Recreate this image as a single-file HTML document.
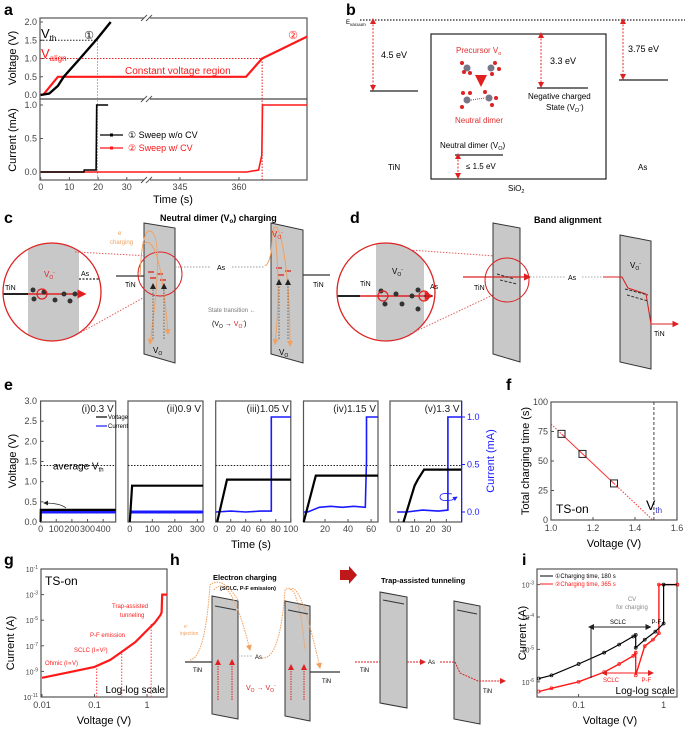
<!DOCTYPE html>
<html><head><meta charset="utf-8"><style>
html,body{margin:0;padding:0;background:#fff}
svg{display:block;font-family:"Liberation Sans",Arial,sans-serif}
</style></head><body>
<svg id="fig" width="685" height="734" viewBox="0 0 685 734" xmlns="http://www.w3.org/2000/svg">
<defs>
<marker id="arR" markerWidth="6" markerHeight="6" refX="5" refY="3" orient="auto"><path d="M0,0 L6,3 L0,6 z" fill="#e02020"/></marker>
<marker id="arK" markerWidth="6" markerHeight="6" refX="5" refY="3" orient="auto"><path d="M0,0 L6,3 L0,6 z" fill="#222"/></marker>
<marker id="arO" markerWidth="6" markerHeight="6" refX="5" refY="3" orient="auto"><path d="M0,0 L6,3 L0,6 z" fill="#f0a060"/></marker>
<marker id="arB" markerWidth="6" markerHeight="6" refX="5" refY="3" orient="auto"><path d="M0,0 L6,3 L0,6 z" fill="#2020ff"/></marker>
<marker id="arRs" markerWidth="6" markerHeight="6" refX="3" refY="3" orient="auto-start-reverse"><path d="M0,0 L6,3 L0,6 z" fill="#e02020"/></marker>
<marker id="arKs" markerWidth="6" markerHeight="6" refX="3" refY="3" orient="auto-start-reverse"><path d="M0,0 L6,3 L0,6 z" fill="#222"/></marker>
<clipPath id="clipC"><circle cx="52" cy="298" r="49"/></clipPath>
<clipPath id="clipD"><circle cx="386" cy="298" r="49"/></clipPath>
</defs>

<!-- panel labels -->
<g font-weight="bold" font-size="16" fill="#000">
<text x="4" y="15">a</text><text x="346" y="15">b</text>
<text x="4" y="223">c</text><text x="350" y="223">d</text>
<text x="4" y="390">e</text><text x="506" y="390">f</text>
<text x="4" y="565">g</text><text x="170" y="565">h</text><text x="522" y="565">i</text>
</g>

<!-- ===== panel b (static diagram) ===== -->
<g font-size="9">
<line x1="360" y1="20" x2="685" y2="20" stroke="#222" stroke-dasharray="1.5,1.5" stroke-width="1.2"/>
<text x="346" y="24" font-size="6">E<tspan font-size="4.5" dy="2">vacuum</tspan></text>
<line x1="373" y1="21" x2="373" y2="90" stroke="#e03030" stroke-dasharray="2,1.5" marker-end="url(#arR)" marker-start="url(#arRs)"/>
<line x1="370" y1="91" x2="418" y2="91" stroke="#222" stroke-width="1.2"/>
<text x="381" y="58">4.5 eV</text>
<line x1="623" y1="21" x2="623" y2="79" stroke="#e03030" stroke-dasharray="2,1.5" marker-end="url(#arR)" marker-start="url(#arRs)"/>
<line x1="619" y1="80" x2="668" y2="80" stroke="#222" stroke-width="1.2"/>
<text x="628" y="52">3.75 eV</text>
<rect x="431" y="34" width="175" height="145" fill="none" stroke="#222" stroke-width="1.2"/>
<line x1="541" y1="35" x2="541" y2="87" stroke="#e03030" stroke-dasharray="2,1.5" marker-end="url(#arR)" marker-start="url(#arRs)"/>
<line x1="537" y1="88" x2="588" y2="88" stroke="#222" stroke-width="1.2"/>
<text x="550" y="64">3.3 eV</text>
<text x="528" y="99" font-size="8">Negative charged</text>
<text x="546" y="110" font-size="8">State (V<tspan font-size="5.5" dy="2">O</tspan><tspan font-size="5.5" dy="-5">-</tspan><tspan dy="3">)</tspan></text>
<text x="456" y="53" fill="#e03030" font-size="8">Precursor V<tspan font-size="5.5" dy="2">o</tspan></text>
<text x="455" y="123" fill="#e03030" font-size="8">Neutral dimer</text>
<g>
<circle cx="467" cy="68" r="3.5" fill="#778"/><circle cx="462" cy="63" r="2" fill="#d22"/><circle cx="470" cy="73" r="2" fill="#d22"/><circle cx="464" cy="72" r="2" fill="#d22"/>
<circle cx="491" cy="68" r="3.5" fill="#778"/><circle cx="495" cy="63" r="2" fill="#d22"/><circle cx="499" cy="69" r="2" fill="#d22"/><circle cx="492" cy="74" r="2" fill="#d22"/>
<line x1="481" y1="77" x2="481" y2="85" stroke="#d22" stroke-width="2" marker-end="url(#arR)"/>
<circle cx="467" cy="100" r="3.5" fill="#778"/><circle cx="463" cy="93" r="2" fill="#d22"/><circle cx="462" cy="107" r="2" fill="#d22"/><circle cx="470" cy="93" r="2" fill="#d22"/>
<circle cx="489" cy="98" r="3.5" fill="#778"/><circle cx="485" cy="92" r="2" fill="#d22"/><circle cx="496" cy="98" r="2" fill="#d22"/><circle cx="492" cy="105" r="2" fill="#d22"/>
<line x1="471" y1="100" x2="485" y2="98" stroke="#d22" stroke-dasharray="1,1"/>
</g>
<text x="440" y="148" font-size="8">Neutral dimer (V<tspan font-size="5.5" dy="2">O</tspan><tspan dy="-2">)</tspan></text>
<line x1="455" y1="155" x2="503" y2="155" stroke="#222" stroke-width="1.2"/>
<line x1="458" y1="156" x2="458" y2="178" stroke="#e03030" stroke-dasharray="2,1.5" marker-end="url(#arR)" marker-start="url(#arRs)"/>
<text x="466" y="169" font-size="8">≤ 1.5 eV</text>
<text x="388" y="170" font-size="8">TiN</text><text x="638" y="170" font-size="8">As</text>
<text x="508" y="191" font-size="8">SiO<tspan font-size="5.5" dy="2">2</tspan></text>
</g>

<!-- ===== panel c ===== -->
<g font-size="7" transform="translate(0,-6)">
<text x="160" y="227" font-weight="bold" font-size="9">Neutral dimer (V<tspan font-size="6" dy="2">o</tspan><tspan dy="-2">) charging</tspan></text>
<g clip-path="url(#clipC)">
<rect x="0" y="240" width="110" height="120" fill="#fff"/>
<rect x="28" y="240" width="51" height="120" fill="#c8c8c8"/>
<line x1="0" y1="300" x2="28" y2="300" stroke="#222" stroke-width="2"/>
<line x1="28" y1="300" x2="85" y2="300" stroke="#d22" stroke-width="1.5" marker-end="url(#arR)"/>
<line x1="79" y1="285" x2="100" y2="285" stroke="#222" stroke-dasharray="2,1.5" stroke-width="1.2"/>
<g fill="#333"><circle cx="33" cy="296" r="2.5"/><circle cx="34" cy="305" r="2.5"/><circle cx="44" cy="298" r="2.5"/><circle cx="55" cy="306" r="2.5"/><circle cx="64" cy="300" r="2.5"/><circle cx="70" cy="307" r="2.5"/><circle cx="75" cy="300" r="2.5"/></g>
<circle cx="42" cy="300" r="5" fill="none" stroke="#d22" stroke-width="1.2"/>
</g>
<circle cx="52" cy="298" r="49" fill="none" stroke="#d22" stroke-width="1.3"/>
<text x="44" y="283" fill="#d22" font-size="8">V<tspan font-size="5" dy="2">O</tspan><tspan font-size="5" dy="-5">-</tspan></text>
<text x="81" y="282">As</text><text x="5" y="296">TiN</text>
<line x1="75" y1="258" x2="150" y2="262" stroke="#e06060" stroke-dasharray="1.5,1.5"/>
<line x1="78" y1="340" x2="150" y2="300" stroke="#e06060" stroke-dasharray="1.5,1.5"/>
<polygon points="144,229 175,234 175,369 144,360" fill="#c8c8c8" stroke="#333"/>
<polygon points="271,229 303,236 303,369 271,360" fill="#c8c8c8" stroke="#333"/>
<line x1="116" y1="282" x2="144" y2="282" stroke="#333" stroke-width="1.2"/>
<text x="125" y="293">TiN</text>
<line x1="175" y1="273" x2="210" y2="273" stroke="#999" stroke-dasharray="1.5,1.5"/>
<text x="217" y="276">As</text>
<line x1="232" y1="273" x2="265" y2="273" stroke="#999" stroke-dasharray="1.5,1.5"/>
<line x1="303" y1="281" x2="330" y2="281" stroke="#333" stroke-width="1.2"/>
<text x="313" y="293">TiN</text>
<circle cx="160" cy="280" r="22" fill="none" stroke="#d22" stroke-width="1"/>
<g stroke="#d22" stroke-width="1.3"><line x1="148" y1="278" x2="154" y2="278"/><line x1="157" y1="280" x2="163" y2="280"/><line x1="150" y1="284" x2="156" y2="284"/><line x1="160" y1="286" x2="166" y2="286"/><line x1="276" y1="274" x2="282" y2="274"/><line x1="285" y1="277" x2="291" y2="277"/><line x1="278" y1="281" x2="284" y2="281"/></g>
<g stroke="#f0a060" fill="none" stroke-width="1"><path d="M140,282 Q142,235 150,237 Q165,240 150,350" marker-end="url(#arO)"/><path d="M143,250 Q160,236 168,340" marker-end="url(#arO)"/><path d="M265,272 Q272,268 272,240 Q275,226 280,240 Q290,280 290,352" marker-end="url(#arO)"/><path d="M275,236 Q281,300 275,350" marker-end="url(#arO)"/></g>
<g stroke="#666" stroke-dasharray="1.5,1.5"><line x1="153" y1="345" x2="153" y2="290" marker-end="url(#arK)"/><line x1="164" y1="345" x2="164" y2="290" marker-end="url(#arK)"/><line x1="279" y1="345" x2="279" y2="286" marker-end="url(#arK)"/><line x1="288" y1="345" x2="288" y2="286" marker-end="url(#arK)"/></g>
<text x="153" y="359" font-size="8">V<tspan font-size="5" dy="2">O</tspan></text>
<text x="279" y="361" font-size="8">V<tspan font-size="5" dy="2">O</tspan></text>
<text x="118" y="241" fill="#f0a060" font-size="6">e<tspan font-size="4" dy="-3">-</tspan></text>
<text x="110" y="250" fill="#f0a060" font-size="6">charging</text>
<text x="208" y="318" fill="#777" font-size="6">State transition ←</text>
<text x="212" y="332" font-size="7">(V<tspan font-size="5" dy="2">O</tspan><tspan dy="-2"> → </tspan><tspan fill="#d22">V<tspan font-size="5" dy="2">O</tspan><tspan font-size="5" dy="-5">-</tspan></tspan><tspan dy="3">)</tspan></text>
<text x="272" y="243" fill="#d22" font-size="8">V<tspan font-size="5" dy="2">O</tspan><tspan font-size="5" dy="-5">-</tspan></text>
</g>

<!-- ===== panel d ===== -->
<g font-size="7" transform="translate(0,-6)">
<text x="534" y="229" font-weight="bold" font-size="9">Band alignment</text>
<g clip-path="url(#clipD)">
<rect x="336" y="240" width="110" height="120" fill="#fff"/>
<rect x="376" y="240" width="48" height="120" fill="#c8c8c8"/>
<line x1="336" y1="302" x2="360" y2="302" stroke="#222" stroke-width="2"/>
<line x1="360" y1="302" x2="432" y2="302" stroke="#d22" stroke-width="1.5" marker-end="url(#arR)"/>
<line x1="424" y1="302" x2="440" y2="302" stroke="#222" stroke-dasharray="2,1.5"/>
<g fill="#333"><circle cx="381" cy="297" r="2.5"/><circle cx="385" cy="310" r="2.5"/><circle cx="396" cy="300" r="2.5"/><circle cx="402" cy="310" r="2.5"/><circle cx="412" cy="302" r="2.5"/><circle cx="418" cy="296" r="2.5"/><circle cx="418" cy="315" r="2.5"/></g>
<circle cx="383" cy="302" r="5" fill="none" stroke="#d22" stroke-width="1.2"/><circle cx="424" cy="302" r="5" fill="none" stroke="#d22" stroke-width="1.2"/>
</g>
<circle cx="386" cy="298" r="49" fill="none" stroke="#d22" stroke-width="1.3"/>
<text x="392" y="280" font-size="8">V<tspan font-size="5" dy="2">O</tspan><tspan font-size="5" dy="-5">-</tspan></text>
<text x="360" y="292">TiN</text><text x="430" y="295">As</text>
<line x1="410" y1="256" x2="495" y2="262" stroke="#e06060" stroke-dasharray="1.5,1.5"/>
<line x1="410" y1="340" x2="495" y2="300" stroke="#e06060" stroke-dasharray="1.5,1.5"/>
<polygon points="493,229 520,234 520,368 493,360" fill="#c8c8c8" stroke="#333"/>
<polygon points="620,241 651,247 651,375 620,368" fill="#c8c8c8" stroke="#333"/>
<circle cx="507" cy="286" r="22" fill="none" stroke="#d22" stroke-width="1"/>
<line x1="463" y1="283" x2="530" y2="283" stroke="#d22" stroke-width="1.2" marker-end="url(#arR)"/>
<text x="474" y="296">TiN</text>
<line x1="530" y1="283" x2="565" y2="283" stroke="#aaa" stroke-dasharray="1.5,1.5"/><text x="568" y="286">As</text>
<line x1="582" y1="283" x2="603" y2="283" stroke="#aaa" stroke-dasharray="1.5,1.5"/>
<path d="M603,283 L622,283 L628,294 L646,300 L651,330 L678,330" fill="none" stroke="#d22" stroke-width="1.1" marker-end="url(#arR)"/>
<g stroke="#333" stroke-dasharray="3,1.5"><line x1="497" y1="280" x2="514" y2="285"/><line x1="500" y1="286" x2="517" y2="290"/><line x1="625" y1="295" x2="648" y2="301"/><line x1="627" y1="301" x2="648" y2="307"/></g>
<text x="630" y="274" font-size="8">V<tspan font-size="5" dy="2">O</tspan><tspan font-size="5" dy="-5">-</tspan></text>
<text x="654" y="342">TiN</text>
</g>

<!-- ===== panel h ===== -->
<g font-size="6">
<text x="213" y="580" font-weight="bold" font-size="7.5">Electron charging</text>
<text x="220" y="590" font-size="5.5" font-weight="bold">(SCLC, P-F emission)</text>
<polygon points="340,570 349,570 349,566 357,575 349,584 349,580 340,580" fill="#c01818"/>
<text x="381" y="583" font-weight="bold" font-size="7.5">Trap-assisted tunneling</text>
<polygon points="212,596 238,601 238,719 212,714" fill="#c8c8c8" stroke="#333"/>
<polygon points="285,601 310,606 310,721 285,716" fill="#c8c8c8" stroke="#333"/>
<polygon points="380,592 407,597 407,708 380,703" fill="#c8c8c8" stroke="#333"/>
<polygon points="454,601 480,606 480,724 454,719" fill="#c8c8c8" stroke="#333"/>
<line x1="185" y1="662" x2="212" y2="662" stroke="#333" stroke-width="1.2"/><text x="193" y="672">TiN</text>
<line x1="238" y1="656" x2="252" y2="656" stroke="#aaa" stroke-dasharray="1.5,1.5"/><text x="255" y="659">As</text>
<line x1="310" y1="672" x2="340" y2="672" stroke="#333" stroke-width="1.2"/><text x="322" y="683">TiN</text>
<line x1="355" y1="662" x2="380" y2="662" stroke="#d22" stroke-dasharray="2,1"/><text x="360" y="672">TiN</text>
<line x1="407" y1="662" x2="425" y2="662" stroke="#d22" stroke-dasharray="2,1" marker-end="url(#arR)"/><text x="428" y="664">As</text>
<path d="M440,662 L455,662 L460,673 L478,681 L505,681" fill="none" stroke="#d22" stroke-dasharray="2,1" marker-end="url(#arR)"/><text x="483" y="693">TiN</text>
<g stroke="#f0a060" fill="none" stroke-dasharray="1.5,1"><path d="M190,660 Q205,658 210,585 Q222,575 238,600"/><path d="M214,590 Q230,570 250,650" marker-end="url(#arO)"/><path d="M262,658 Q280,660 285,590 Q298,578 305,650"/><path d="M290,590 Q300,578 320,668" marker-end="url(#arO)"/></g>
<g stroke="#d22" stroke-dasharray="1.5,1"><line x1="218" y1="700" x2="218" y2="660" marker-end="url(#arR)"/><line x1="232" y1="700" x2="232" y2="660" marker-end="url(#arR)"/><line x1="291" y1="700" x2="291" y2="665" marker-end="url(#arR)"/><line x1="304" y1="700" x2="304" y2="665" marker-end="url(#arR)"/></g>
<g stroke="#333"><line x1="215" y1="606" x2="236" y2="610"/><line x1="288" y1="610" x2="308" y2="614"/><line x1="383" y1="600" x2="404" y2="604"/><line x1="457" y1="610" x2="477" y2="614"/></g>
<text x="246" y="690" fill="#d22" font-size="7">V<tspan font-size="5" dy="2">O</tspan><tspan dy="-2"> → V</tspan><tspan font-size="5" dy="2">O</tspan><tspan font-size="5" dy="-5">-</tspan></text>
<text x="184" y="628" fill="#f0a060" font-size="5">e<tspan dy="-2" font-size="4">-</tspan></text>
<text x="180" y="635" fill="#f0a060" font-size="5">injection</text>
</g>

<g id="charts"></g>
</svg>

<script>
// ===== panel a data =====
const aBlackT=[0,3,6,8,13.7,19.8,24.4];
const aBlackV=[0,0.04,0.25,0.5,1.0,1.55,2.0];
const aRedT=[0,1,6,37,336.6,361.8,365.9,377.3];
const aRedV=[0,0.02,0.5,0.5,0.5,0.5,1.0,1.6];
const aCurBlackT=[0,15,15.2,19.3,19.5,23.5];
const aCurBlackI=[0,0,0.03,0.03,1.0,1.0];
const aCurRedT=[0,37,336.6,362,365,365.8,366,377.3];
const aCurRedI=[0,0,0,0,0.03,0.25,1.0,1.0];
const aVTicks=[0,0.5,1.0,1.5,2.0];
const aITicks=[0,0.5,1.0];
const aTTicks=[0,10,20,30,345,360];
// ===== panel e data =====
const eLabels=['(i)0.3 V','(ii)0.9 V','(iii)1.05 V','(iv)1.15 V','(v)1.3 V'];
const eXMin=[0,-8,0,1.3,-5.5];
const eXMax=[480,325,100,66,39.6];
const eTicks=[[0,100,200,300,400],[0,100,200,300],[0,20,40,60,80,100],[20,40,60],[0,10,20,30]];
const eVoltT=[[0,1,480],[0,10,325],[2,15,100],[1.5,12,66],[3,10,12,16,39.6]];
const eVoltV=[[0,0.3,0.3],[0,0.9,0.9],[0,1.05,1.05],[0,1.15,1.15],[0,0.9,1.05,1.3,1.3]];
const eCurT=[[0,480],[0,325],[0,20,40,60,74,74,100],[1.5,5,15,25,35,45,55,56,56,66],[-1,5,15,25,31,31,39.6]];
const eCurI=[[0,0],[0,0],[0,0.01,0,0.01,0.01,1.0,1.0],[0,0,0.05,0.06,0.05,0.06,0.05,0.55,1.0,1.0],[0,0,0.02,0.01,0.02,1.0,1.0]];
const eVTicks=[0,0.5,1.0,1.5,2.0,2.5,3.0];
const eITicks=[0,0.5,1.0];
const eAvgVth=1.4;
// ===== panel f data =====
const fV=[1.05,1.15,1.3];
const fT=[73,56,31];
const fVth=1.49;
const fXTicks=[1.0,1.2,1.4,1.6];
const fYTicks=[0,25,50,75,100];
// ===== panel g data =====
const gV=[0.01,0.03,0.1,0.2,0.35,0.6,1.0,1.4,1.8,1.9,1.95,2.4];
const gLogI=[-9.5,-9.1,-8.65,-8.1,-7.4,-6.7,-5.8,-5.2,-4.6,-4.4,-3.0,-3.0];
const gXTicks=[0.01,0.1,1];
const gYTicks=[-1,-3,-5,-7,-9,-11];
// ===== panel i data =====
const iBlackV=[0.034,0.048,0.1,0.2,0.3,0.44,0.47,0.47,0.6,0.8,1.0,1.0,1.45];
const iBlackLogI=[-5.9,-5.8,-5.45,-5.1,-4.85,-4.6,-4.55,-4.95,-4.7,-4.45,-4.2,-3.0,-3.0];
const iRedV=[0.034,0.048,0.1,0.2,0.3,0.44,0.47,0.47,0.6,0.75,0.88,0.88,1.45];
const iRedLogI=[-6.3,-6.2,-6.0,-5.7,-5.45,-5.2,-5.1,-5.8,-4.9,-4.7,-4.5,-3.0,-3.0];
const iXTicks=[0.1,1];
const iYTicks=[-3,-4,-5,-6];

const NS='http://www.w3.org/2000/svg';
const root=document.getElementById('charts');
function el(tag,attrs,parent){const e=document.createElementNS(NS,tag);for(const k in attrs)e.setAttribute(k,attrs[k]);(parent||root).appendChild(e);return e;}
function txt(s,attrs,parent){const e=el('text',attrs,parent);e.textContent=s;return e;}
function poly(xs,ys,fx,fy){return xs.map((x,i)=>fx(x).toFixed(1)+','+fy(ys[i]).toFixed(1)).join(' ');}
const FS=9;

// ================= PANEL A =================
const aBreakT0=37, aBreakT1=336.6;
function xA(t){return t<=aBreakT0?40.7+t*2.87:147+(t-aBreakT1)*3.93;}
function yAV(v){return 95-v*36.5;}
function yAI(i){return 172-i*67;}
let gA=el('g',{});


let fr=el('rect',{x:40,y:18,width:267,height:81,fill:'none',stroke:'#555','stroke-width':1.2},gA);


fr=el('rect',{x:40,y:99,width:267,height:81,fill:'none',stroke:'#555','stroke-width':1.2},gA);


aVTicks.forEach(v=>{el('line',{x1:40,y1:yAV(v),x2:43,y2:yAV(v),stroke:'#555'},gA);let t=txt(v.toFixed(1),{x:37,y:yAV(v)+3,'font-size':FS,'text-anchor':'end',fill:'#444'},gA);

});
aITicks.forEach(v=>{el('line',{x1:40,y1:yAI(v),x2:43,y2:yAI(v),stroke:'#555'},gA);let t=txt(v.toFixed(1),{x:37,y:yAI(v)+3,'font-size':FS,'text-anchor':'end',fill:'#444'},gA);

});
aTTicks.forEach(v=>{el('line',{x1:xA(v),y1:180,x2:xA(v),y2:177,stroke:'#555'},gA);let t=txt(String(v),{x:xA(v),y:190,'font-size':FS,'text-anchor':'middle',fill:'#444'},gA);

});
el('rect',{x:144,y:15,width:6,height:168,fill:'#fff'},gA);
['M141,21 L147,15','M146,21 L152,15','M141,102 L147,96','M146,102 L152,96','M141,183 L147,177','M146,183 L152,177'].forEach(d=>el('path',{d:d,stroke:'#555',fill:'none'},gA));
let tl=txt('Voltage (V)',{x:0,y:0,'font-size':11,'text-anchor':'middle',transform:'translate(16,58) rotate(-90)'},gA);


tl=txt('Current (mA)',{x:0,y:0,'font-size':11,'text-anchor':'middle',transform:'translate(16,140) rotate(-90)'},gA);


tl=txt('Time (s)',{x:173,y:203,'font-size':11,'text-anchor':'middle'},gA);


const tVth=19.8, tAlign=365.9;
el('line',{x1:40,y1:yAV(1.5),x2:xA(tVth),y2:yAV(1.5),stroke:'#222','stroke-dasharray':'1.5,1.5'},gA);
el('line',{x1:xA(tVth),y1:yAV(1.5),x2:xA(tVth),y2:180,stroke:'#999','stroke-dasharray':'1.5,1.5'},gA);
el('line',{x1:40,y1:yAV(1.0),x2:xA(tAlign),y2:yAV(1.0),stroke:'#e02020','stroke-dasharray':'1.5,1.5'},gA);
el('line',{x1:xA(tAlign),y1:yAV(1.0),x2:xA(tAlign),y2:180,stroke:'#e02020','stroke-dasharray':'1.5,1.5'},gA);
function splitDraw(T,Y,fy,color,name,w){
  const segs=[[[],[]],[[],[]]];
  T.forEach((t,i)=>{const s=t<=aBreakT0?0:1;segs[s][0].push(t);segs[s][1].push(Y[i]);});
  segs.forEach(s=>{if(s[0].length>1){let p=el('polyline',{points:poly(s[0],s[1],xA,fy),fill:'none',stroke:color,'stroke-width':w},gA);
  
  }});
}
splitDraw(aRedT,aRedV,yAV,'#ff1818','voltage-line-sweep-with-cv',2.2);
splitDraw(aBlackT,aBlackV,yAV,'#000','voltage-line-sweep-without-cv',2.4);
splitDraw(aCurRedT,aCurRedI,yAI,'#ff1818','current-line-sweep-with-cv',1.6);
splitDraw(aCurBlackT,aCurBlackI,yAI,'#000','current-line-sweep-without-cv',1.6);
tl=txt('V',{x:41,y:38,'font-size':13},gA);tl.innerHTML='V<tspan font-size="8" dy="3">th</tspan>';


tl=txt('V',{x:41,y:58,'font-size':13,fill:'#ff1818'},gA);tl.innerHTML='V<tspan font-size="8" dy="3">align</tspan>';


tl=txt('①',{x:89,y:39,'font-size':11,'text-anchor':'middle'},gA);


tl=txt('②',{x:293,y:39,'font-size':11,'text-anchor':'middle',fill:'#ff1818'},gA);


tl=txt('Constant voltage region',{x:125,y:74,'font-size':10,fill:'#ff1818'},gA);


let lg=el('g',{},gA);


el('line',{x1:100,y1:135,x2:123,y2:135,stroke:'#000','stroke-width':1.2},lg);el('rect',{x:110,y:133.5,width:3,height:3,fill:'#000'},lg);
txt('① Sweep w/o CV',{x:128,y:138,'font-size':9},lg);
el('line',{x1:100,y1:148,x2:123,y2:148,stroke:'#ff1818','stroke-width':1.2},lg);el('rect',{x:110,y:146.5,width:3,height:3,fill:'#ff1818'},lg);
txt('② Sweep w/ CV',{x:128,y:151,'font-size':9,fill:'#ff1818'},lg);

// ================= PANEL E =================
const eLeft=[40.6,128,215.7,303.5,390], eRight=[115.7,203,290.8,378,461.6];
const eY0=522,eY3=401;
function yEV(v){return eY0-v*(eY0-eY3)/3;}
function yEI(i){return 512-i*95;}
let gE=el('g',{});


eLabels.forEach((lab,k)=>{
  const L=eLeft[k],R=eRight[k];
  const fx=t=>L+(t-eXMin[k])*(R-L)/(eXMax[k]-eXMin[k]);
  let sg=el('g',{},gE);
  
  
  let r=el('rect',{x:L,y:eY3,width:R-L,height:eY0-eY3,fill:'none',stroke:'#555','stroke-width':1.2},sg);
  
  
  el('line',{x1:L,y1:yEV(eAvgVth),x2:R,y2:yEV(eAvgVth),stroke:'#222','stroke-dasharray':'1.5,1.5'},sg);
  eTicks[k].forEach(t=>{el('line',{x1:fx(t),y1:eY0,x2:fx(t),y2:eY0-3,stroke:'#555'},sg);let tt=txt(String(t),{x:fx(t),y:eY0+10,'font-size':FS,'text-anchor':'middle',fill:'#444'},sg);
  
  });
  let cl=el('polyline',{points:poly(eCurT[k],eCurI[k],fx,yEI),fill:'none',stroke:'#1a1aff','stroke-width':k<2?3:1.6},sg);
  
  
  let vl=el('polyline',{points:poly(eVoltT[k],eVoltV[k],fx,yEV),fill:'none',stroke:'#000','stroke-width':2.2},sg);
  
  
  let lt=txt(lab,{x:R-2,y:eY3+11,'font-size':10,'text-anchor':'end',fill:'#222'},sg);
  
  
});
eVTicks.forEach(v=>{el('line',{x1:40.6,y1:yEV(v),x2:43.6,y2:yEV(v),stroke:'#555'},gE);let t=txt(v.toFixed(1),{x:37,y:yEV(v)+3,'font-size':FS,'text-anchor':'end',fill:'#444'},gE);

});
eITicks.forEach(v=>{el('line',{x1:461.6,y1:yEI(v),x2:465,y2:yEI(v),stroke:'#1a1aff'},gE);let t=txt(v.toFixed(1),{x:467,y:yEI(v)+3,'font-size':FS,fill:'#1a1aff'},gE);

});
el('line',{x1:461.6,y1:eY3,x2:461.6,y2:eY0,stroke:'#1a1aff','stroke-width':1.2},gE);
tl=txt('Voltage (V)',{x:0,y:0,'font-size':11,'text-anchor':'middle',transform:'translate(16,461) rotate(-90)'},gE);


tl=txt('Current (mA)',{x:0,y:0,'font-size':11,'text-anchor':'middle',fill:'#1a1aff',transform:'translate(494,461) rotate(-90)'},gE);


tl=txt('Time (s)',{x:251,y:548,'font-size':11,'text-anchor':'middle'},gE);


tl=txt('',{x:53,y:yEV(eAvgVth)+4,'font-size':10},gE);tl.innerHTML='average V<tspan font-size="6" dy="2">th</tspan>';


lg=el('g',{},gE);


el('line',{x1:96,y1:417,x2:107,y2:417,stroke:'#000','stroke-width':1.2},lg);txt('Voltage',{x:108,y:419,'font-size':6},lg);
el('line',{x1:96,y1:426,x2:107,y2:426,stroke:'#1a1aff','stroke-width':1.2},lg);txt('Current',{x:108,y:428,'font-size':6},lg);
el('path',{d:'M66,508 Q60,503 44,503',fill:'none',stroke:'#222','stroke-width':0.8,'marker-end':'url(#arK)'},gE);
el('path',{d:'M452,494 Q440,492 440,497 Q440,502 452,500 L457,497',fill:'none',stroke:'#1a1aff','stroke-width':0.8,'marker-end':'url(#arB)'},gE);

// ================= PANEL F =================
const fL=551,fR=677,fTop=402,fBot=520;
function xF(v){return fL+(v-1.0)*(fR-fL)/0.6;}
function yF(t){return fBot-t*(fBot-fTop)/100;}
let gF=el('g',{});


fr=el('rect',{x:fL,y:fTop,width:fR-fL,height:fBot-fTop,fill:'none',stroke:'#555','stroke-width':1.2},gF);


fXTicks.forEach(v=>{el('line',{x1:xF(v),y1:fBot,x2:xF(v),y2:fBot-3,stroke:'#555'},gF);let t=txt(v.toFixed(1),{x:xF(v),y:fBot+11,'font-size':FS,'text-anchor':'middle',fill:'#444'},gF);

});
fYTicks.forEach(v=>{el('line',{x1:fL,y1:yF(v),x2:fL+3,y2:yF(v),stroke:'#555'},gF);let t=txt(String(v),{x:fL-3,y:yF(v)+3,'font-size':FS,'text-anchor':'end',fill:'#444'},gF);

});
const n=fV.length,mx=fV.reduce((a,b)=>a+b)/n,my=fT.reduce((a,b)=>a+b)/n;
let sxy=0,sxx=0;fV.forEach((v,i)=>{sxy+=(v-mx)*(fT[i]-my);sxx+=(v-mx)*(v-mx);});
const slope=sxy/sxx,icpt=my-slope*mx,fit=v=>icpt+slope*v,v0=-icpt/slope;
el('line',{x1:xF(1.0),y1:yF(fit(1.0)),x2:xF(fV[0]),y2:yF(fit(fV[0])),stroke:'#ff3030','stroke-dasharray':'1.5,1.5'},gF);
let fl=el('line',{x1:xF(fV[0]),y1:yF(fit(fV[0])),x2:xF(fV[n-1]),y2:yF(fit(fV[n-1])),stroke:'#ff3030'},gF);


el('line',{x1:xF(fV[n-1]),y1:yF(fit(fV[n-1])),x2:xF(v0),y2:yF(0),stroke:'#ff3030','stroke-dasharray':'1.5,1.5'},gF);
el('line',{x1:xF(fVth),y1:fTop,x2:xF(fVth),y2:fBot,stroke:'#444','stroke-dasharray':'3,2'},gF);
fV.forEach((v,i)=>{let m=el('rect',{x:xF(v)-3.5,y:yF(fT[i])-3.5,width:7,height:7,fill:'none',stroke:'#222','stroke-width':1},gF);

});
tl=txt('TS-on',{x:556,y:513,'font-size':12},gF);


tl=txt('',{x:646,y:510,'font-size':14},gF);tl.innerHTML='V<tspan font-size="8" dy="3" fill="#3030c0">th</tspan>';


tl=txt('Total charging time (s)',{x:0,y:0,'font-size':11,'text-anchor':'middle',transform:'translate(529,461) rotate(-90)'},gF);


tl=txt('Voltage (V)',{x:614,y:547,'font-size':11,'text-anchor':'middle'},gF);



// ================= PANEL G =================
const gL=41,gR=167,gTop=569,gBot=697;
function xG(v){return 42+(Math.log10(v)+2)*52.5;}
function yG(l){return gTop+(-1-l)*(gBot-gTop)/10;}
let gG=el('g',{});


fr=el('rect',{x:gL,y:gTop,width:gR-gL,height:gBot-gTop,fill:'none',stroke:'#555','stroke-width':1.2},gG);


gXTicks.forEach(v=>{el('line',{x1:xG(v),y1:gBot,x2:xG(v),y2:gBot-3,stroke:'#555'},gG);let t=txt(String(v),{x:xG(v),y:gBot+11,'font-size':FS,'text-anchor':'middle',fill:'#444'},gG);

});
gYTicks.forEach(v=>{el('line',{x1:gL,y1:yG(v),x2:gL+3,y2:yG(v),stroke:'#555'},gG);let t=txt('',{x:gL-3,y:yG(v)+3,'font-size':7,'text-anchor':'end',fill:'#444'},gG);t.innerHTML='10<tspan font-size="5" dy="-3">'+v+'</tspan>';

});
[[0.11,-8.4],[0.33,-7.3],[1.2,-5.3]].forEach(p=>el('line',{x1:xG(p[0]),y1:gBot,x2:xG(p[0]),y2:yG(p[1]),stroke:'#ff4040','stroke-dasharray':'1.5,1.5'},gG));
let gl=el('polyline',{points:poly(gV,gLogI,xG,yG),fill:'none',stroke:'#ff1818','stroke-width':2.2},gG);


tl=txt('TS-on',{x:45,y:585,'font-size':12},gG);


tl=txt('Log-log scale',{x:165,y:693,'font-size':10,'text-anchor':'end'},gG);


const gAnn=[['Trap-assisted',112,608],['tunneling',120,617],['P-F emission',90,637],['SCLC (I∝V²)',74,652],['Ohmic (I∝V)',45,665]];
gAnn.forEach(a=>{let t=txt(a[0],{x:a[1],y:a[2],'font-size':6,fill:'#ff2020'},gG);

});
tl=txt('Current (A)',{x:0,y:0,'font-size':11,'text-anchor':'middle',transform:'translate(14,643) rotate(-90)'},gG);


tl=txt('Voltage (V)',{x:104,y:724,'font-size':11,'text-anchor':'middle'},gG);



// ================= PANEL I =================
const iL=537,iR=677,iTop=569,iBot=697;
function xI(v){return 578.6+Math.log10(v/0.1)*85;}
function yI(l){return 584.6+(-3-l)*32.4;}
let gI=el('g',{});


fr=el('rect',{x:iL,y:iTop,width:iR-iL,height:iBot-iTop,fill:'none',stroke:'#555','stroke-width':1.2},gI);


iXTicks.forEach(v=>{el('line',{x1:xI(v),y1:iBot,x2:xI(v),y2:iBot-3,stroke:'#555'},gI);let t=txt(String(v),{x:xI(v),y:iBot+11,'font-size':FS,'text-anchor':'middle',fill:'#444'},gI);

});
iYTicks.forEach(v=>{el('line',{x1:iL,y1:yI(v),x2:iL+3,y2:yI(v),stroke:'#555'},gI);let t=txt('',{x:iL-3,y:yI(v)+3,'font-size':7,'text-anchor':'end',fill:'#444'},gI);t.innerHTML='10<tspan font-size="5" dy="-3">'+v+'</tspan>';

});
let ir=el('polyline',{points:poly(iRedV,iRedLogI,xI,yI),fill:'none',stroke:'#ff1818','stroke-width':1.4},gI);


let ib=el('polyline',{points:poly(iBlackV,iBlackLogI,xI,yI),fill:'none',stroke:'#000','stroke-width':1.2},gI);


iBlackV.forEach((v,k)=>{let c=el('circle',{cx:xI(v),cy:yI(iBlackLogI[k]),r:1.5,fill:'none',stroke:'#000','stroke-width':0.7},gI);

});
iRedV.forEach((v,k)=>{let c=el('circle',{cx:xI(v),cy:yI(iRedLogI[k]),r:1.5,fill:'none',stroke:'#ff1818','stroke-width':0.7},gI);

});
lg=el('g',{},gI);


el('line',{x1:540,y1:576,x2:553,y2:576,stroke:'#000'},lg);txt('①Charging time, 180 s',{x:555,y:578,'font-size':6},lg);
el('line',{x1:540,y1:584,x2:553,y2:584,stroke:'#ff1818'},lg);txt('②Charging time, 365 s',{x:555,y:586,'font-size':6,fill:'#ff1818'},lg);
txt('CV',{x:632,y:601,'font-size':6,fill:'#888','text-anchor':'middle'},gI);
txt('for charging',{x:632,y:609,'font-size':6,fill:'#888','text-anchor':'middle'},gI);
el('line',{x1:xI(0.14),y1:627,x2:xI(0.7),y2:627,stroke:'#222','marker-end':'url(#arK)','marker-start':'url(#arKs)'},gI);
el('line',{x1:xI(0.14),y1:627,x2:xI(0.14),y2:678,stroke:'#222'},gI);
txt('SCLC',{x:610,y:624,'font-size':6},gI);txt('P-F',{x:xI(0.72),y:624,'font-size':6},gI);
el('line',{x1:xI(0.2),y1:673,x2:xI(0.75),y2:673,stroke:'#ff1818','marker-end':'url(#arR)','marker-start':'url(#arRs)'},gI);
txt('SCLC',{x:603,y:682,'font-size':6,fill:'#ff1818'},gI);txt('P-F',{x:xI(0.55),y:682,'font-size':6,fill:'#ff1818'},gI);
tl=txt('Log-log scale',{x:675,y:694,'font-size':10,'text-anchor':'end'},gI);


tl=txt('Current (A)',{x:0,y:0,'font-size':11,'text-anchor':'middle',transform:'translate(526,633) rotate(-90)'},gI);


tl=txt('Voltage (V)',{x:610,y:724,'font-size':11,'text-anchor':'middle'},gI);


</script>
</body></html>
